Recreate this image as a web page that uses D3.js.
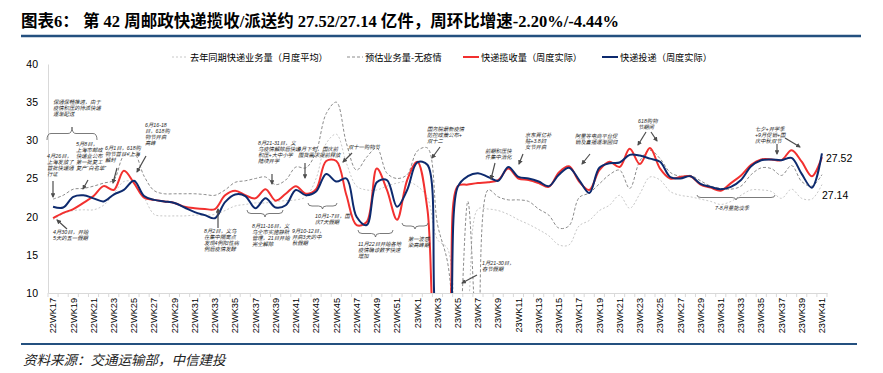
<!DOCTYPE html>
<html>
<head>
<meta charset="utf-8">
<script src="https://cdn.jsdelivr.net/npm/d3@7"></script>
<style>
body{margin:0;background:#fff;}
svg{display:block;}
</style>
</head>
<body>
<div id="chart"></div>
<script>
////////////////////////////////////////////////////////////
//////////////////////// Data //////////////////////////////
////////////////////////////////////////////////////////////
var weeks = [];
for (var w = 17; w <= 52; w++) weeks.push("22WK" + w);
for (var w = 1; w <= 41; w++) weeks.push("23WK" + w);

var seriesNames = ["去年同期快递业务量（月度平均）", "预估业务量-无疫情", "快递揽收量（周度实际）", "快递投递（周度实际）"];

// 去年同期快递业务量（月度平均）
var lastYear = [
  19.6, 20.4, 20.8, 20.9, 20.9, 21.5, 23.0, 24.6, 24.5, 22.5,
  20.3, 20.1, 20.1, 20.1, 20.2, 20.2, 20.3, 20.8, 21.4, 21.6,
  21.8, 21.8, 22.0, 22.1, 22.2, 22.6, 25.0, 29.6, 30.8, 27.0,
  24.0, 23.5, 23.5, 24.0, 24.4, 24.6, 24.0, 22.5, 17.0, 15.8,
  2.0, 8.0, 21.0, 21.0, 20.8, 20.3, 19.6, 19.0, 18.3, 17.5,
  16.3, 16.3, 18.8, 19.5, 20.8, 21.5, 22.8, 21.1, 23.0, 25.2,
  24.8, 23.3, 22.8, 22.6, 22.3, 22.0, 21.6, 22.0, 22.8, 23.5,
  23.5, 23.3, 22.4, 23.6, 22.4, 22.3, 24.2
];
// 预估业务量-无疫情
var forecast = [
  22.3, 22.8, 23.6, 23.7, 24.0, 24.4, 24.8, 28.0, 28.3, 25.3,
  23.4, 23.0, 23.0, 23.0, 23.0, 22.9, 22.8, 23.5, 24.5, 24.7,
  25.0, 25.2, 24.2, 24.8, 26.5, 26.4, 28.5, 33.5, 35.0, 29.6,
  26.1, 27.8, 29.0, 25.7, 25.0, 25.5, 28.6, 29.0, 19.0, 14.0,
  2.0, 22.0, 2.0, 23.5, 22.6, 22.2, 22.2, 22.0, 21.0, 20.2,
  18.5, 18.8, 22.5, 23.1, 24.3, 25.5, 26.1, 23.7, 27.3, 28.7,
  27.6, 25.8, 25.3, 25.4, 24.7, 24.0, 23.7, 23.6, 24.0, 25.5,
  26.4, 26.3, 25.4, 26.7, 24.6, 24.0, 25.5
];
// 快递揽收量（周度实际）
var collected = [
  19.8, 20.5, 21.0, 21.8, 22.7, 24.0, 23.5, 26.0, 24.4, 22.5,
  22.2, 22.0, 21.8, 21.3, 21.1, 21.0, 21.0, 22.8, 23.4, 22.8,
  22.4, 23.6, 22.1, 23.0, 24.0, 23.0, 23.6, 27.3, 27.3, 22.8,
  18.9, 19.3, 26.3, 23.5, 19.6, 24.8, 27.2, 21.0, 3.0, 5.0,
  24.0, 24.2, 24.4, 24.5, 24.8, 26.3, 25.0, 24.8, 24.4, 23.9,
  25.8, 26.6, 24.6, 23.5, 26.1, 27.2, 26.5, 28.9, 26.9, 29.0,
  26.3, 25.0, 25.2, 25.3, 24.2, 23.8, 23.4, 24.4, 25.4, 26.8,
  27.5, 27.5, 27.4, 28.7, 27.2, 25.3, 27.8
];
// 快递投递（周度实际）
var delivered = [
  21.3, 21.2, 22.6, 22.8, 22.4, 22.0, 22.9, 23.5, 24.7, 22.7,
  22.2, 22.0, 21.8, 21.2, 20.6, 20.2, 19.8, 21.9, 22.9, 22.7,
  21.1, 22.4, 21.2, 21.5, 23.5, 22.8, 23.3, 25.6, 24.6, 25.0,
  20.0, 18.9, 24.5, 24.8, 21.3, 23.5, 27.1, 26.8, 6.0, 4.0,
  23.9, 25.3, 25.7, 25.2, 24.7, 26.5, 25.2, 25.0, 24.6, 24.0,
  25.5, 26.4, 24.8, 23.1, 26.4, 27.0, 27.1, 28.1, 28.0, 27.6,
  27.2, 25.2, 25.0, 25.3, 24.3, 23.9, 23.6, 23.9, 24.8, 26.6,
  27.4, 27.5, 27.4, 27.7, 25.6, 23.8, 28.3
];

var yTicks = [10, 15, 20, 25, 30, 35, 40];
var endLabels = ["27.52", "27.14"];

var titleText = "图表6：  第 42 周邮政快递揽收/派送约 27.52/27.14 亿件，周环比增速-2.20%/-4.44%";
var sourceText = "资料来源：交通运输部，中信建投";

// annotation texts
var notes = [
  {x: 53, y: 104, lines: ["保通保畅推进，由于", "疫情积压的待派快递", "逐渐配送"]},
  {x: 47, y: 158, lines: ["4月26日，", "上海发放了", "首批快递通", "行证"]},
  {x: 76, y: 146, lines: ["5月8日，", "上海市邮政", "快递业公布", "第一批复工", "复产\u201c白名单\u201d"]},
  {x: 105, y: 150, lines: ["6月1日，618购", "物节首日+上海", "解封"]},
  {x: 145, y: 127, lines: ["6月16-18", "日，618购", "物节开启", "高峰"]},
  {x: 53, y: 234, lines: ["4月30日，开始", "5天的五一假期"]},
  {x: 204, y: 233, lines: ["8月2日，义乌", "在集中隔离点", "发现4例阳性病", "例后疫情发酵"]},
  {x: 258, y: 145, lines: ["8月21-31日，义", "乌疫情解除后快递", "积压+大中小学", "陆续开学"]},
  {x: 252, y: 228, lines: ["8月11-16日，义", "乌全市实施静默", "管理，21日开始", "完全解除"]},
  {x: 292, y: 233, lines: ["9月10-12日，", "开启3天的中", "秋假期"]},
  {x: 298, y: 151, lines: ["9月下旬，国庆前", "囤货需求提前释放"]},
  {x: 315, y: 218, lines: ["10月1-7日，国", "庆7天假期"]},
  {x: 348, y: 149, lines: ["双十一购物节"]},
  {x: 358, y: 246, lines: ["11月22日开始各地", "疫情确诊数字快速", "增加"]},
  {x: 408, y: 241, lines: ["第一波感", "染高峰期"]},
  {x: 427, y: 131, lines: ["国务院最新疫情", "防控政策公布+", "双十二"]},
  {x: 482, y: 265, lines: ["1月21-30日，", "春节假期"]},
  {x: 485, y: 153, lines: ["前期积压快", "件集中消化"]},
  {x: 525, y: 137, lines: ["京东百亿补", "贴+3.8妇", "女节开启"]},
  {x: 575, y: 138, lines: ["阿里等电商平台促", "销及直播逐渐回归"]},
  {x: 638, y: 123, lines: ["618购物", "节期间"]},
  {x: 755, y: 131, lines: ["七夕+开学季", "+9月促销+国", "庆中秋双节"]},
  {x: 715, y: 210, lines: ["7-8月量能淡季"]}
];
var arrows = [
  [53, 181, 53, 197], [88, 180, 83, 189], [117, 168, 113, 183], [146, 156, 137, 172],
  [67, 229, 57, 220], [218, 228, 218, 209], [272, 174, 272, 184], [305, 163, 305, 178],
  [352, 153, 343, 162], [440, 147, 432, 158], [477, 275, 462, 283], [495, 163, 491, 179],
  [523, 154, 519, 164], [590, 154, 582, 164], [646, 132, 638, 145], [651, 132, 657, 141],
  [777, 144, 777, 154], [785, 138, 800, 147]
];
var braces = [
  {x1: 47, x2: 97, y: 140, h: -13},
  {x1: 247, x2: 283, y: 210, h: 7},
  {x1: 308, x2: 337, y: 203, h: 6},
  {x1: 358, x2: 393, y: 230, h: 7},
  {x1: 402, x2: 428, y: 223, h: 6},
  {x1: 697, x2: 775, y: 195, h: 5}
];

////////////////////////////////////////////////////////////
//////////////////////// Setup /////////////////////////////
////////////////////////////////////////////////////////////
var width = 883, height = 373,
  plot = {left: 48, right: 827, top: 64, bottom: 293};

var cjk = "'Noto Sans CJK SC', sans-serif";
var sans = "'Liberation Sans', Arial, 'Noto Sans CJK SC', sans-serif";

var svg = d3.select("#chart").append("svg")
  .attr("width", width)
  .attr("height", height);

var x = d3.scaleBand().domain(weeks).range([plot.left, plot.right]);
var cx = function(d) { return x(d) + x.bandwidth() / 2; };
var y = d3.scaleLinear().domain([10, 40]).range([plot.bottom, plot.top]);

// title + rules
svg.append("text")
  .attr("x", 21).attr("y", 27)
  .style("font-family", "'Liberation Serif', 'Noto Sans CJK SC', serif")
  .style("font-weight", "bold")
  .style("font-size", "16.5px")
  .attr("fill", "#000")
  .text(titleText);

svg.append("line").attr("x1", 21).attr("x2", 861).attr("y1", 36).attr("y2", 36)
  .attr("stroke", "#24507f").attr("stroke-width", 2.5);
svg.append("line").attr("x1", 21).attr("x2", 857).attr("y1", 344).attr("y2", 344)
  .attr("stroke", "#24507f").attr("stroke-width", 2);

svg.append("text")
  .attr("x", 23).attr("y", 365)
  .style("font-family", cjk)
  .style("font-style", "italic")
  .style("font-size", "13.5px")
  .attr("fill", "#222")
  .text(sourceText);

////////////////////////////////////////////////////////////
//////////////////////// Axes //////////////////////////////
////////////////////////////////////////////////////////////
var yAxis = svg.append("g")
  .attr("transform", "translate(" + plot.left + ",0)")
  .call(d3.axisLeft(y).tickValues(yTicks).tickSize(0).tickSizeOuter(0).tickPadding(10));
yAxis.select(".domain").attr("stroke", "#d9d9d9");
yAxis.selectAll("text").style("font-family", sans).style("font-size", "10.5px").attr("fill", "#000");

var xAxis = svg.append("g")
  .attr("transform", "translate(0," + plot.bottom + ")")
  .call(d3.axisBottom(x).tickSize(4).tickSizeOuter(0)
    .tickFormat(function(d, i) { return i % 2 === 0 ? d : ""; }));
xAxis.select(".domain").attr("stroke", "#d9d9d9");
xAxis.selectAll(".tick line")
  .attr("x1", -x.bandwidth() / 2).attr("x2", -x.bandwidth() / 2)
  .attr("stroke", "#d9d9d9");
xAxis.append("line")
  .attr("x1", plot.right).attr("x2", plot.right).attr("y1", 0).attr("y2", 4)
  .attr("stroke", "#d9d9d9");
xAxis.selectAll(".tick text")
  .attr("transform", "rotate(-90)")
  .attr("text-anchor", "end")
  .attr("x", -5).attr("y", 0).attr("dy", "0.35em")
  .style("font-family", sans).style("font-size", "9.2px").attr("fill", "#000");

////////////////////////////////////////////////////////////
//////////////////////// Lines /////////////////////////////
////////////////////////////////////////////////////////////
svg.append("clipPath").attr("id", "plotClip")
  .append("rect")
  .attr("x", plot.left).attr("y", plot.top - 10)
  .attr("width", plot.right - plot.left + 2).attr("height", plot.bottom - plot.top + 10);

var line = d3.line()
  .x(function(d, i) { return cx(weeks[i]); })
  .y(function(d) { return y(d); })
  .curve(d3.curveCatmullRom.alpha(0.5));

var styles = [
  {data: lastYear, color: "#c8c8c8", width: 1, dash: "2,2"},
  {data: forecast, color: "#8c8c8c", width: 1, dash: "3,2"},
  {data: collected, color: "#f2302f", width: 2, dash: null},
  {data: delivered, color: "#0d2a6e", width: 2, dash: null}
];

var g = svg.append("g").attr("clip-path", "url(#plotClip)");
styles.forEach(function(s) {
  g.append("path")
    .datum(s.data)
    .attr("fill", "none")
    .attr("stroke", s.color)
    .attr("stroke-width", s.width)
    .attr("stroke-dasharray", s.dash)
    .attr("stroke-linejoin", "round")
    .attr("d", line);
});

// end value labels
svg.append("text").attr("x", 826).attr("y", 162)
  .style("font-family", sans).style("font-size", "10.5px").attr("fill", "#000")
  .text(endLabels[0]);
svg.append("text").attr("x", 822).attr("y", 199)
  .style("font-family", sans).style("font-size", "10.5px").attr("fill", "#000")
  .text(endLabels[1]);

////////////////////////////////////////////////////////////
//////////////////////// Legend ////////////////////////////
////////////////////////////////////////////////////////////
var legendX = [172, 347, 463, 602];
var legend = svg.append("g").attr("class", "legend");
styles.forEach(function(s, i) {
  legend.append("line")
    .attr("x1", legendX[i]).attr("x2", legendX[i] + 16)
    .attr("y1", 57).attr("y2", 57)
    .attr("stroke", s.color)
    .attr("stroke-width", s.width)
    .attr("stroke-dasharray", s.dash);
  legend.append("text")
    .attr("x", legendX[i] + 18).attr("y", 60.5)
    .style("font-family", cjk).style("font-size", "9.2px").attr("fill", "#000")
    .text(seriesNames[i]);
});

////////////////////////////////////////////////////////////
///////////////////// Annotations //////////////////////////
////////////////////////////////////////////////////////////
svg.append("defs").append("marker")
  .attr("id", "arrowHead")
  .attr("viewBox", "0 0 10 10")
  .attr("refX", 8).attr("refY", 5)
  .attr("markerWidth", 4).attr("markerHeight", 4)
  .attr("orient", "auto")
  .append("path").attr("d", "M0,0 L10,5 L0,10 z").attr("fill", "#4d4d4d");

var ann = svg.append("g").attr("class", "annotations");

arrows.forEach(function(a) {
  ann.append("line")
    .attr("x1", a[0]).attr("y1", a[1]).attr("x2", a[2]).attr("y2", a[3])
    .attr("stroke", "#4d4d4d").attr("stroke-width", 1.2)
    .attr("marker-end", "url(#arrowHead)");
});

braces.forEach(function(b) {
  var xm = (b.x1 + b.x2) / 2, ym = b.y + b.h / 2, yt = b.y + b.h, r = 4;
  var p = "M" + b.x1 + "," + b.y +
    " Q" + b.x1 + "," + ym + " " + (b.x1 + r) + "," + ym +
    " L" + (xm - r) + "," + ym +
    " Q" + xm + "," + ym + " " + xm + "," + yt +
    " Q" + xm + "," + ym + " " + (xm + r) + "," + ym +
    " L" + (b.x2 - r) + "," + ym +
    " Q" + b.x2 + "," + ym + " " + b.x2 + "," + b.y;
  ann.append("path").attr("d", p)
    .attr("fill", "none").attr("stroke", "#595959").attr("stroke-width", 0.8);
});

// small italic notes; latin primary font keeps line boxes tight
notes.forEach(function(n) {
  var t = ann.append("text")
    .attr("x", n.x).attr("y", n.y)
    .style("font-family", sans)
    .style("font-style", "italic")
    .style("font-size", "5.3px")
    .attr("fill", "#262626");
  n.lines.forEach(function(l, i) {
    t.append("tspan").attr("x", n.x).attr("dy", i === 0 ? 0 : 6).text(l);
  });
});
</script>
</body>
</html>
